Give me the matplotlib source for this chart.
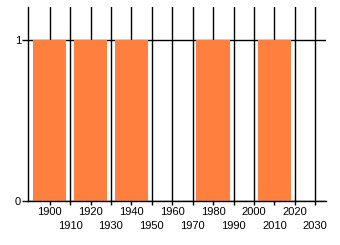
import matplotlib
matplotlib.use("Agg")
import matplotlib.pyplot as plt

years = [1900, 1920, 1940, 1980, 2010]
values = [1, 1, 1, 1, 1]
tick_years = list(range(1900, 2031, 10))
y_ticks = [0, 1]

fig = plt.figure(figsize=(3.4, 2.45), dpi=100)
ax = fig.add_axes([28/340, 1-201/245, (325.7-28)/340, (201-7)/245])
ax.bar(years, values, width=16.3, color="#ff7f3f", zorder=2)
ax.set_xlim(1889.4, 2035.1)
ax.set_ylim(0, 1.205)
for s in ["top", "right"]:
    ax.spines[s].set_visible(False)
ax.spines["left"].set_linewidth(1)
ax.spines["bottom"].set_linewidth(1)
ax.set_xticks(tick_years)
ax.set_xticklabels([str(y) for y in tick_years], fontfamily="Liberation Sans", fontsize=8)
for i, lab in enumerate(ax.get_xticklabels()):
    if tick_years[i] % 20 == 10:
        lab.set_y(-0.075)
ax.set_yticks(y_ticks)
ax.set_yticklabels([str(v) for v in y_ticks], fontfamily="Liberation Sans", fontsize=8)
ax.tick_params(axis="x", length=3, width=1, pad=1, colors="black")
ax.tick_params(axis="y", length=4, width=1, pad=1)
ax.grid(True, color="black", linewidth=1, zorder=0)
ax.set_axisbelow(True)
fig.savefig("out.png", dpi=100)
